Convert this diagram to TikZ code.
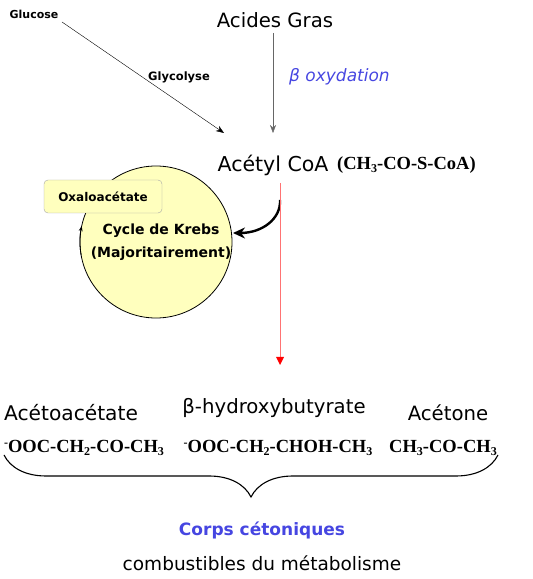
\documentclass[tikz,border=0pt]{standalone}
\usepackage{fontspec}
\setmainfont{DejaVu Sans}
\newfontfamily\tms{Liberation Serif}
\usetikzlibrary{arrows.meta,decorations.pathreplacing,calc}
\definecolor{pale}{RGB}{255,255,190}
\definecolor{bblue}{RGB}{70,70,225}
\newcommand{\chsub}[1]{\raisebox{-0.35ex}{\fontsize{12pt}{12pt}\selectfont #1}}
\newcommand{\chsup}[1]{\raisebox{0.75ex}{\fontsize{12pt}{12pt}\selectfont #1}}
\begin{document}
\begin{tikzpicture}[x=1pt,y=1pt,
  lbl/.style={inner sep=0pt,anchor=center},
  big/.style={lbl,font=\fontsize{19.7pt}{21pt}\selectfont},
  formula/.style={lbl,font=\tms\bfseries\fontsize{18.5pt}{20pt}\selectfont},
  tip/.style={-{Stealth[length=8pt,width=6pt]}}]
\useasboundingbox (0,0) rectangle (533,579);
% top
\node[lbl,font=\bfseries\fontsize{11pt}{12pt}\selectfont] (glu) at (34,565) {Glucose};
\node[lbl,font=\bfseries\fontsize{11.5pt}{13pt}\selectfont] (gly) at (179,502) {Glycolyse};
\node[big] (ag) at (275,559) {Acides Gras};
\node[lbl,anchor=west,font=\itshape\fontsize{17pt}{19pt}\selectfont,text=bblue] (box) at (289,502) {β oxydation};
\node[big,font=\fontsize{20.5pt}{21pt}\selectfont] (acoa) at (273,414) {Acétyl CoA};
\node[formula,anchor=west] (acf) at (337,414) {(CH\chsub{3}-CO-S-CoA)};
\coordinate (gend) at (224,446);
\coordinate (agend) at (273,446);
\draw[tip,thin] (62,557) -- (gend);
\draw[tip,gray!80!black,thin] (273,546) -- (agend);
% Krebs
\node[circle,draw=black,thick,fill=pale,minimum size=152pt,inner sep=0pt] (krebs) at (156,337) {};
\node[lbl,font=\bfseries\fontsize{14pt}{23pt}\selectfont,align=center] (kt) at (161,337) {Cycle de Krebs\\(Majoritairement)};
\node[draw=gray!70,fill=pale,rounded corners=4pt,minimum width=118pt,minimum height=33pt,inner sep=0pt,font=\bfseries\fontsize{12pt}{13pt}\selectfont] (oxa) at (103,382.5) {Oxaloacétate};
\draw[-{Stealth[length=5pt,width=4pt]},thick] ($(krebs.center)+(190:76)$) arc[start angle=190,end angle=168,radius=76];
\coordinate (cs) at (280,379);
\draw[line width=2.4pt,-{Stealth[length=12pt,width=11pt]}] (cs) .. controls (281,360) and (262,346) .. (233,346);
% red
\coordinate (rs) at (280,396);
\coordinate (re) at (280,214);
\draw[red!55,thin] (rs) -- ($(re)+(0,4)$);
\fill[red] (276,222) -- (284,222) -- (280,214) -- cycle;
% bottom
\node[big,font=\fontsize{20.2pt}{21pt}\selectfont] (aa) at (71,166) {Acétoacétate};
\node[big] (hb) at (274,171) {β-hydroxybutyrate};
\node[big] (ac) at (448,166) {Acétone};
\node[formula] (f1) at (84,131) {\chsup{-}OOC-CH\chsub{2}-CO-CH\chsub{3}};
\node[formula] (f2) at (278,131) {\chsup{-}OOC-CH\chsub{2}-CHOH-CH\chsub{3}};
\node[formula] (f3) at (443,131) {CH\chsub{3}-CO-CH\chsub{3}};
\coordinate (bl) at (4,124);
\coordinate (br) at (498,124);
\draw[line width=1.1pt,decorate,decoration={brace,mirror,amplitude=42pt,raise=0pt}] (bl) -- (br);
\node[lbl,font=\bfseries\fontsize{17pt}{19pt}\selectfont,text=bblue] (cc) at (262,49) {Corps cétoniques};
\node[big,font=\fontsize{18.5pt}{21pt}\selectfont] (cm) at (262,16) {combustibles du métabolisme};
\end{tikzpicture}
\end{document}
